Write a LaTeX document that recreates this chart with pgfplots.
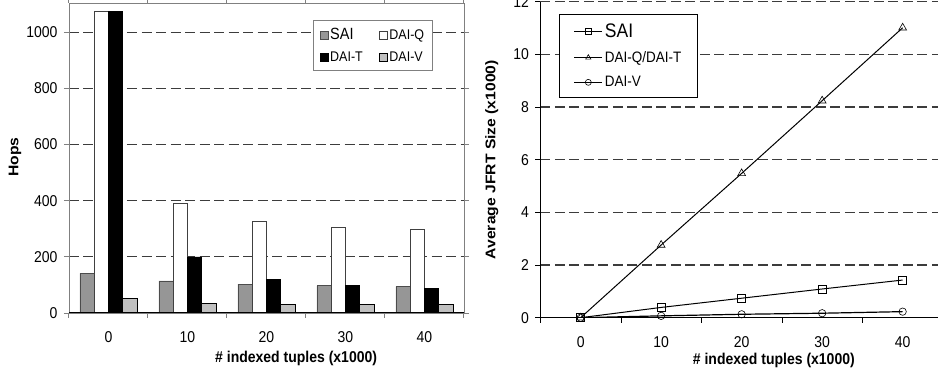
\documentclass[border=0pt]{standalone}
\usepackage{fontspec}
\setmainfont{Liberation Sans}
\usepackage{graphicx}
\usepackage{pgfplots}
\pgfplotsset{compat=1.18}
\pgfplotsset{/pgf/number format/assume math mode=true, /pgf/number format/1000 sep={}}
\newcommand\vs[1]{\scalebox{1}[1.12]{#1}}
\newcommand\hs[1]{\scalebox{1.12}[1]{#1}}
\definecolor{saigray}{RGB}{150,150,150}
\definecolor{daivgray}{RGB}{192,192,192}
\definecolor{gridgray}{RGB}{60,60,60}
\definecolor{framegray}{RGB}{128,128,128}
\begin{document}
\begin{tikzpicture}[x=1pt,y=1pt]
\useasboundingbox (0,0) rectangle (938,372);
\clip (0,0) rectangle (938,372);
% ---------------- left chart ----------------
\begin{axis}[
  at={(69pt,59pt)}, anchor=south west,
  scale only axis, width=395pt, height=310pt,
  xmin=-0.5, xmax=4.5, ymin=0, ymax=1104,
  ybar=0pt, bar width=0.181,
  font=\fontsize{14}{16}\selectfont,
  xtick={0,1,2,3,4},
  xticklabels={\vs{0},\vs{10},\vs{20},\vs{30},\vs{40}},
  major x tick style={draw=none},
  minor xtick={-0.5,0.5,1.5,2.5,3.5,4.5},
  minor x tick style={framegray, line width=1pt},
  ytick={0,200,400,600,800,1000},
  yticklabel={\vs{\pgfmathprintnumber{\tick}}},
  major y tick style={framegray, line width=0.8pt},
  tick align=outside, major tick length=5pt, minor tick length=5pt,
  ymajorgrids,
  major grid style={gridgray, line width=1.2pt, dash pattern=on 10pt off 4.5pt},
  axis line style={framegray, line width=0.8pt},
  xticklabel style={anchor=north, yshift=-10pt},
  yticklabel style={anchor=east, xshift=-3pt},
  ylabel={\hs{\bfseries Hops}},
  ylabel style={at={(axis description cs:-0.137,0.503)}, anchor=center, rotate=0},
  xlabel={\vs{\bfseries \# indexed tuples (x1000)}},
  xlabel style={at={(axis description cs:0.575,-0.148)}, anchor=center},
  legend columns=2,
  legend style={at={(0.618,0.945)}, anchor=north west, draw=framegray, line width=1pt,
    fill=white, inner xsep=6pt, inner ysep=6pt, row sep=6pt,
    /tikz/every even column/.append style={column sep=14pt}},
  legend cell align=left,
  legend image code/.code={\draw[#1, line width=0.6pt] (0pt,-4pt) rectangle (8pt,4pt);},
]
\addplot[fill=saigray, draw=black!70, line width=0.6pt] coordinates {(0,141)(1,114)(2,103)(3,97)(4,94)};
\addplot[fill=white, draw=black!75, line width=0.6pt] coordinates {(0,1073)(1,391)(2,325)(3,305)(4,298)};
\addplot[fill=black, draw=black, line width=0.6pt] coordinates {(0,1073)(1,200)(2,120)(3,97)(4,87)};
\addplot[fill=daivgray, draw=black, line width=1pt] coordinates {(0,50)(1,35)(2,32)(3,32)(4,32)};
\legend{\vs{\fontsize{14.5}{16}\selectfont SAI},\vs{\fontsize{12.5}{14}\selectfont DAI-Q},\vs{\fontsize{12.5}{14}\selectfont DAI-T},\vs{\fontsize{12.5}{14}\selectfont DAI-V}}
\draw[black, line width=1pt] (axis cs:-0.5,0) -- (axis cs:4.5,0);
\end{axis}
% ---------------- right chart ----------------
\begin{axis}[
  at={(540.4pt,54.3pt)}, anchor=south west,
  scale only axis, width=402.5pt, height=316pt,
  xmin=-5, xmax=45, ymin=0, ymax=12,
  font=\fontsize{14}{16}\selectfont,
  axis lines=left, axis line style={-, black, line width=0.8pt},
  xtick={0,10,20,30,40},
  xticklabel={\vs{\pgfmathprintnumber{\tick}}},
  major x tick style={draw=none},
  minor xtick={-5,5,15,25,35},
  minor x tick style={black, line width=0.8pt},
  ytick={0,2,4,6,8,10,12},
  yticklabel={\vs{\pgfmathprintnumber{\tick}}},
  major y tick style={black, line width=0.8pt},
  tick align=outside, major tick length=5pt, minor tick length=5pt,
  ymajorgrids,
  major grid style={gridgray, line width=1.2pt, dash pattern=on 10pt off 4.5pt},
  xticklabel style={anchor=north, yshift=-10pt},
  yticklabel style={anchor=east, xshift=-3pt},
  ylabel={\hs{\bfseries Average JFRT Size (x1000)}},
  ylabel style={at={(axis description cs:-0.121,0.5)}, anchor=center},
  xlabel={\vs{\bfseries \# indexed tuples (x1000)}},
  xlabel style={at={(axis description cs:0.58,-0.134)}, anchor=center},
  legend style={at={(0.047,0.960)}, anchor=north west, draw=black, line width=0.8pt,
    fill=white, inner xsep=14pt, inner ysep=7pt, row sep=8.5pt},
  legend cell align=left,
  legend image code/.code={\draw[#1, mark size=3pt, mark repeat=2, mark phase=2] plot coordinates {(0pt,0pt)(14pt,0pt)(28pt,0pt)};},
]
\addplot[black, line width=1pt, mark=square, mark size=4pt, mark options={fill=white, solid, line width=0.6pt}] coordinates {(0,0)(10,0.39)(20,0.74)(30,1.09)(40,1.43)};
\addplot[black, line width=1pt, mark=triangle, mark size=4.5pt, mark options={fill=white, solid, line width=0.6pt}] coordinates {(0,0)(10,2.76)(20,5.48)(30,8.24)(40,11.01)};
\addplot[black, line width=1.2pt, mark=o, mark size=3.7pt, mark options={fill=white, solid, line width=0.6pt}] coordinates {(0,0)(10,0.07)(20,0.13)(30,0.17)(40,0.23)};
\legend{\vs{\fontsize{17.5}{19}\selectfont SAI},\vs{\fontsize{13.5}{15}\selectfont DAI-Q/DAI-T},\vs{\fontsize{13.5}{15}\selectfont DAI-V}}
\end{axis}
\end{tikzpicture}
\end{document}
